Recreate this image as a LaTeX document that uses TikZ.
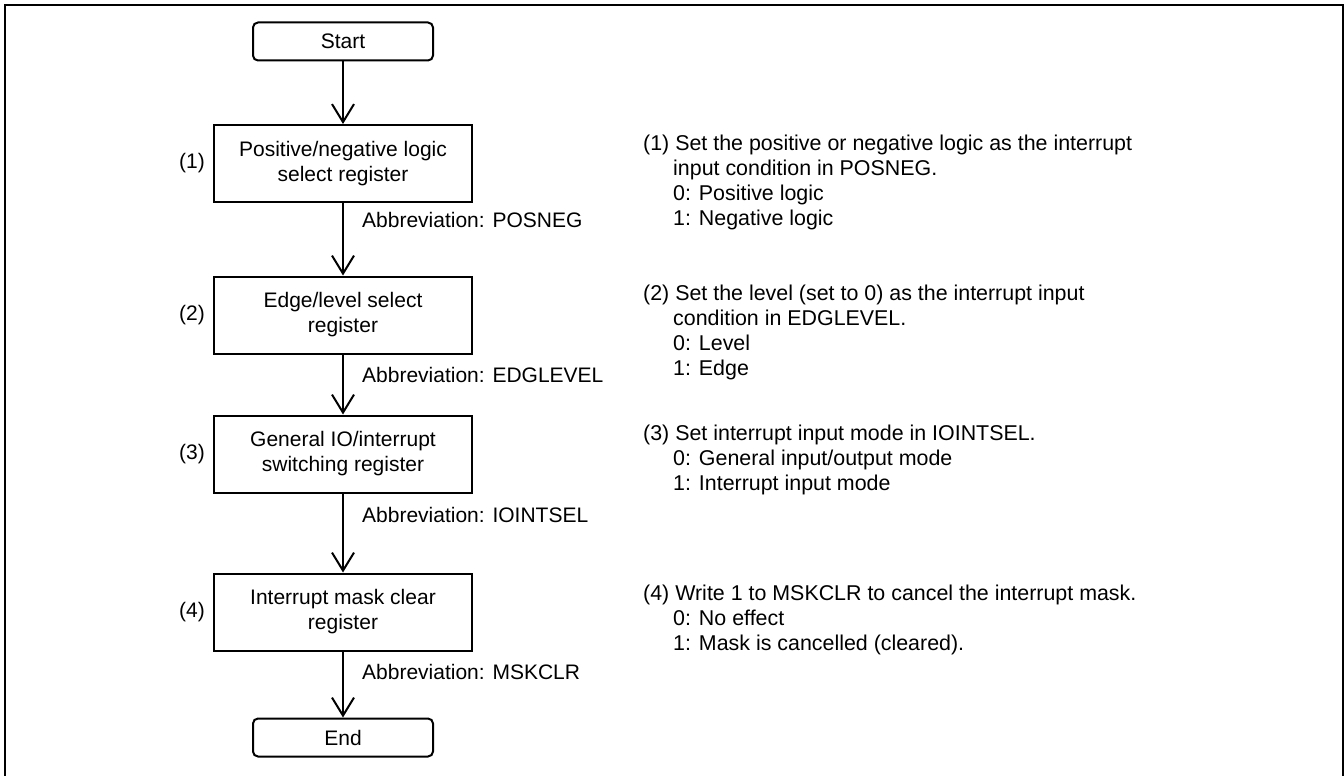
\documentclass[tikz,border=0pt]{standalone}
\usepackage{fontspec}
\setmainfont{Liberation Sans}
\usetikzlibrary{arrows.meta}
\begin{document}
\begin{tikzpicture}[x=1pt,y=-1pt,
  every node/.style={font=\fontsize{21}{25}\selectfont},
  regbox/.style={draw,line width=2pt,minimum width=258pt,minimum height=77pt,align=center,inner sep=0pt},
  termbox/.style={draw,line width=2pt,rounded corners=5pt,minimum width=180pt,minimum height=38pt,inner sep=0pt},
  flow/.style={line width=2pt,-{Straight Barb[length=18pt,width=22pt,line width=2pt]}},
  num/.style={inner sep=0pt},
  abbr/.style={anchor=base west,inner sep=0pt},
  note/.style={anchor=base west,inner sep=0pt,font=\fontsize{21.4}{25}\selectfont}]
\useasboundingbox (0,0) rectangle (1344,776);
\begin{scope}
\clip (0,0) rectangle (1344,776);
\draw[line width=2pt] (4.5,5.5) rectangle (1342.5,790);
\end{scope}
\node[termbox] (start) at (343,41.5) {Start};
\node[regbox] (r1) at (343,163.5) {Positive/negative logic\\select register};
\node[regbox] (r2) at (343,315) {Edge/level select\\register};
\node[regbox] (r3) at (343,454) {General IO/interrupt\\switching register};
\node[regbox] (r4) at (343,612) {Interrupt mask clear\\register};
\node[termbox] (end) at (343,737.5) {End};
\draw[flow] (start) -- (r1);
\draw[flow] (r1) -- (r2);
\draw[flow] (r2) -- (r3);
\draw[flow] (r3) -- (r4);
\draw[flow] (r4) -- (end);
\node[num] (n1) at (192,163.5) {(1)};
\node[num] (n2) at (192,315) {(2)};
\node[num] (n3) at (192,454) {(3)};
\node[num] (n4) at (192,612) {(4)};
\node[abbr] (a1) at (362,227.5) {Abbreviation: POSNEG};
\node[abbr] (a2) at (362,382.5) {Abbreviation: EDGLEVEL};
\node[abbr] (a3) at (362,522.5) {Abbreviation: IOINTSEL};
\node[abbr] (a4) at (362,679.5) {Abbreviation: MSKCLR};
\node[note] (t1a) at (643,150.5) {(1) Set the positive or negative logic as the interrupt};
\node[note] (t1b) at (673,175.5) {input condition in POSNEG.};
\node[note] (t1c) at (673,200.5) {0: Positive logic};
\node[note] (t1d) at (673,225.5) {1: Negative logic};
\node[note] (t2a) at (643,300.5) {(2) Set the level (set to 0) as the interrupt input};
\node[note] (t2b) at (673,325.5) {condition in EDGLEVEL.};
\node[note] (t2c) at (673,350.5) {0: Level};
\node[note] (t2d) at (673,375.5) {1: Edge};
\node[note] (t3a) at (643,440.5) {(3) Set interrupt input mode in IOINTSEL.};
\node[note] (t3b) at (673,465.5) {0: General input/output mode};
\node[note] (t3c) at (673,490.5) {1: Interrupt input mode};
\node[note] (t4a) at (643,600.5) {(4) Write 1 to MSKCLR to cancel the interrupt mask.};
\node[note] (t4b) at (673,625.5) {0: No effect};
\node[note] (t4c) at (673,650.5) {1: Mask is cancelled (cleared).};
\end{tikzpicture}
\end{document}
